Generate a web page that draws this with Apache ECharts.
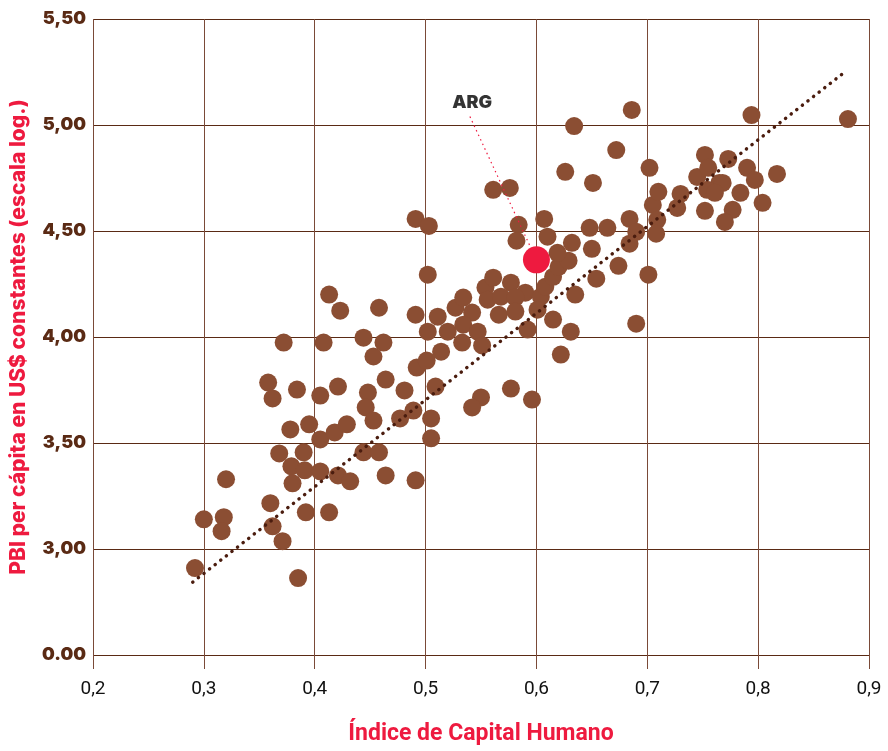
<!DOCTYPE html>
<html>
<head>
<meta charset="utf-8">
<script src="https://cdn.jsdelivr.net/npm/echarts@6/dist/echarts.min.js"></script>
<style>
  html, body { margin: 0; padding: 0; background: #fff; }
  #chart { width: 888px; height: 751px; }
</style>
</head>
<body>
<div id="chart"></div>
<script>
// [Índice de Capital Humano, PBI per cápita (log)]
const countries = [
  [0.292,2.910],[0.300,3.140],[0.318,3.150],[0.316,3.084],[0.320,3.329],[0.360,3.216],[0.362,3.107],
  [0.371,3.037],[0.385,2.863],[0.392,3.173],[0.413,3.173],[0.358,3.785],[0.362,3.710],[0.372,3.974],
  [0.384,3.752],[0.405,3.724],[0.421,3.766],[0.378,3.564],[0.395,3.588],[0.405,3.517],[0.418,3.550],
  [0.429,3.588],[0.368,3.451],[0.390,3.456],[0.379,3.390],[0.391,3.371],[0.405,3.366],[0.421,3.347],
  [0.432,3.319],[0.380,3.310],[0.444,3.456],[0.458,3.456],[0.464,3.347],[0.491,3.324],[0.413,4.200],
  [0.423,4.124],[0.408,3.974],[0.444,3.997],[0.462,3.974],[0.453,3.908],[0.458,4.138],[0.448,3.738],
  [0.464,3.799],[0.481,3.748],[0.446,3.668],[0.453,3.606],[0.477,3.616],[0.489,3.653],[0.505,3.616],
  [0.505,3.522],[0.509,3.766],[0.491,4.557],[0.503,4.524],[0.502,4.294],[0.491,4.105],[0.511,4.096],
  [0.502,4.025],[0.492,3.856],[0.501,3.889],[0.514,3.931],[0.520,4.025],[0.527,4.138],[0.534,4.186],
  [0.542,4.115],[0.534,4.058],[0.547,4.025],[0.533,3.974],[0.551,3.960],[0.554,4.233],[0.561,4.280],
  [0.577,4.256],[0.590,4.209],[0.556,4.176],[0.568,4.190],[0.581,4.186],[0.566,4.105],[0.581,4.120],
  [0.604,4.190],[0.608,4.237],[0.615,4.284],[0.620,4.331],[0.629,4.360],[0.650,4.416],[0.674,4.336],
  [0.654,4.275],[0.635,4.200],[0.615,4.082],[0.592,4.035],[0.601,4.129],[0.631,4.025],[0.622,3.917],
  [0.690,4.063],[0.701,4.294],[0.577,3.757],[0.596,3.705],[0.550,3.715],[0.542,3.668],
  [0.561,4.694],[0.576,4.703],[0.584,4.529],[0.582,4.454],[0.607,4.557],[0.610,4.473],[0.632,4.444],
  [0.619,4.397],[0.648,4.515],[0.664,4.515],[0.626,4.779],[0.651,4.727],[0.634,4.995],[0.686,5.071],
  [0.672,4.882],[0.702,4.798],[0.705,4.623],[0.710,4.685],[0.684,4.557],[0.690,4.496],[0.684,4.440],
  [0.709,4.553],[0.708,4.487],
  [0.794,5.047],[0.881,5.028],[0.752,4.859],[0.773,4.840],[0.790,4.798],[0.817,4.769],[0.745,4.755],
  [0.755,4.798],[0.765,4.727],[0.754,4.694],[0.730,4.675],[0.727,4.609],[0.752,4.595],[0.784,4.680],
  [0.797,4.741],[0.804,4.633],[0.777,4.600],[0.770,4.543],[0.768,4.727],[0.761,4.680]
]

const argentina = [0.600, 4.364]
const trendLine = [[0.290, 2.844], [0.877, 5.245]]

// annotation "ARG"
const argLabelPos = [0.542, 5.108]
const argLeader = [[0.540, 5.040], [0.595, 4.420]]

const xTicks = { min: 0.2, max: 0.9, interval: 0.1 }
const yTicks = { min: 2.5, max: 5.5, interval: 0.5 }  // 2.5 is shown as broken axis "0.00"

const brown = '#8b4e33'
const dark = '#5a2a14'
const red = '#ee1a3f'
const heavyFont = "'Inter', 'Noto Sans', sans-serif"
const narrowFont = "'Liberation Sans Narrow', 'Roboto', sans-serif"

const chart = echarts.init(document.getElementById('chart'))

chart.setOption({
  animation: false,
  grid: { left: 92, right: 19, top: 19, bottom: 95 },
  xAxis: {
    type: 'value',
    min: xTicks.min,
    max: xTicks.max,
    interval: xTicks.interval,
    name: 'Índice de Capital Humano',
    nameLocation: 'middle',
    nameGap: 68,
    nameTextStyle: { color: red, fontSize: 23, fontWeight: 'bold', fontFamily: narrowFont },
    axisLine: { show: false },
    axisTick: { show: true, length: 14, lineStyle: { color: '#7a4a38', width: 1 } },
    axisLabel: {
      margin: 25,
      color: '#111',
      fontSize: 19,
      fontFamily: narrowFont,
      formatter: v => v.toFixed(1).replace('.', ',')
    },
    splitLine: { show: true, lineStyle: { color: '#7a4a38', width: 1 } }
  },
  yAxis: {
    type: 'value',
    min: yTicks.min,
    max: yTicks.max,
    interval: yTicks.interval,
    name: 'PBI per cápita en US$ constantes (escala log.)',
    nameLocation: 'middle',
    nameGap: 64,
    nameTextStyle: { color: red, fontSize: 21, fontWeight: 800, fontFamily: heavyFont },
    axisLine: { show: false },
    axisTick: { show: false },
    axisLabel: {
      margin: 7,
      color: dark,
      fontSize: 18,
      fontWeight: 900,
      fontFamily: heavyFont,
      formatter: v => v === 2.5 ? '0.00' : v.toFixed(2).replace('.', ',')
    },
    splitLine: { show: true, lineStyle: { color: dark, width: 1.2 } }
  },
  series: [
    {
      type: 'scatter',
      data: countries,
      symbolSize: 18,
      itemStyle: { color: brown, opacity: 1 },
      z: 2
    },
    {
      type: 'line',
      data: trendLine,
      symbol: 'none',
      lineStyle: { color: '#4a1c0e', width: 3.5, type: [0.1, 7], cap: 'round' },
      z: 3
    },
    {
      type: 'line',
      data: argLeader,
      symbol: 'none',
      lineStyle: { color: red, width: 1.2, type: [1.5, 3.5] },
      z: 3
    },
    {
      type: 'scatter',
      data: [argentina],
      symbolSize: 27,
      itemStyle: { color: red, opacity: 1 },
      z: 4
    },
    {
      type: 'scatter',
      data: [argLabelPos],
      symbolSize: 0,
      label: {
        show: true,
        position: 'inside',
        formatter: 'ARG',
        color: '#000',
        fontSize: 18,
        fontWeight: 900,
        fontFamily: heavyFont
      },
      z: 5
    }
  ]
})
</script>
</body>
</html>
